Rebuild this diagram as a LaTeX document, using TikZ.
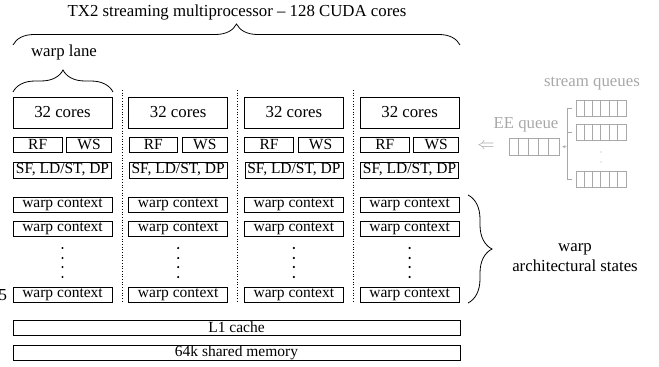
\documentclass[tikz,border=0pt]{standalone}
\usepackage{fontspec}
\setmainfont{Liberation Serif}
\usetikzlibrary{decorations.pathreplacing,arrows.meta}

\definecolor{qgray}{gray}{0.66}
\newcommand{\bigtxt}{\fontsize{16.8}{20}\selectfont}
\newcommand{\smtxt}{\fontsize{15.5}{17}\selectfont}

\begin{document}
\begin{tikzpicture}[x=1pt, y=-1pt, line width=0.8pt,
    unit/.style={draw, inner sep=0pt, font=\smtxt},
    corebox/.style={draw, inner sep=0pt, minimum width=99pt, minimum height=31pt, font=\bigtxt},
    bar/.style={draw, inner sep=0pt, minimum width=447pt, minimum height=15pt, font=\smtxt},
    qbox/.style={draw=qgray, line width=0.6pt, inner sep=0pt, minimum width=50pt, minimum height=16pt},
    bracebig/.style={decorate, decoration={brace, amplitude=#1}},
    lbl/.style={font=\bigtxt, inner sep=0pt}]
    \useasboundingbox (0,0) rectangle (659,367);

    % four warp lanes
    \foreach \k [evaluate=\k as \cx using 62.5+115.7*\k] in {0,1,2,3}{
        \node[corebox] (core\k) at (\cx,112.5) {32 cores};
        \node[unit, minimum width=48.5pt, minimum height=15pt, anchor=north west] (rf\k) at (\cx-49.5,137) {RF};
        \node[unit, minimum width=45pt, minimum height=15pt, anchor=north east] (ws\k) at (\cx+49.5,137) {WS};
        \node[unit, minimum width=98pt, minimum height=16pt] (sf\k) at (\cx,170) {SF, LD/ST, DP};
        \node[unit, minimum width=99pt, minimum height=15pt] (wca\k) at (\cx,204.5) {warp context};
        \node[unit, minimum width=99pt, minimum height=15pt] (wcb\k) at (\cx,229) {warp context};
        \node[unit, minimum width=99pt, minimum height=15pt] (wcn\k) at (\cx,295) {warp context};
        \foreach \y in {248,258,267,277}{ \fill (\cx,\y) circle (1.2pt); }
    }
    % lane separators
    \foreach \k [evaluate=\k as \sx using 122+115.7*\k] in {0,1,2}{
        \draw[dotted, line width=0.7pt] (\sx,90) -- (\sx,303);
    }
    \node[lbl, anchor=east] (idx) at (7.5,295) {5};

    % shared units
    \node[bar] (l1) at (236.5,327.5) {L1 cache};
    \node[bar] (shm) at (236.5,352.5) {64k shared memory};

    % braces and their labels
    \coordinate (smL) at (13,45);
    \coordinate (smR) at (460,45);
    \draw[bracebig=21pt] (smL) -- (smR);
    \node[lbl] (title) at (237,12) {TX2 streaming multiprocessor -- 128 CUDA cores};
    \coordinate (wlL) at (13,92);
    \coordinate (wlR) at (113,92);
    \draw[bracebig=22pt] (wlL) -- (wlR);
    \node[lbl] (lane) at (64,52) {warp lane};
    \coordinate (stT) at (468,195);
    \coordinate (stB) at (468,303);
    \draw[bracebig=24pt] (stT) -- (stB);
    \node[lbl, align=center] (states) at (575,258) {warp\\architectural states};

    % queues
    \begin{scope}[qgray, line width=0.6pt]
        \node[lbl] (sqlbl) at (592,84) {stream queues};
        \node[qbox] (sq1) at (601,108) {};
        \node[qbox] (sq2) at (601,132) {};
        \node[qbox] (sq3) at (601,179) {};
        \foreach \q in {sq1,sq2,sq3}{
            \foreach \i in {1,...,5}{ \draw (\q.north west) ++(\i*50/6,0) -- ++(0,16); }
        }
        \fill (601,152) circle (0.6pt);
        \fill (601,162) circle (0.6pt);
        \node[qbox, minimum height=17pt] (ee) at (534,146.5) {};
        \foreach \i in {1,...,4}{ \draw (ee.north west) ++(\i*10,0) -- ++(0,17); }
        \node[lbl] (eelbl) at (526,125) {EE queue};
        \draw ([xshift=-4pt]sq1.west) -- ++(-4,0) coordinate (brT) |- ([xshift=-4pt]sq3.west);
        \draw ([xshift=-4pt]sq2.west) -- ++(-4,0);
        \coordinate (br) at (568,147);
        \draw[-{Stealth[length=3pt,width=3pt]}] (br) -- ([xshift=3pt]ee.east);
        \node[lbl] (into) at (486,146) {$\Leftarrow$};
    \end{scope}
\end{tikzpicture}
\end{document}
